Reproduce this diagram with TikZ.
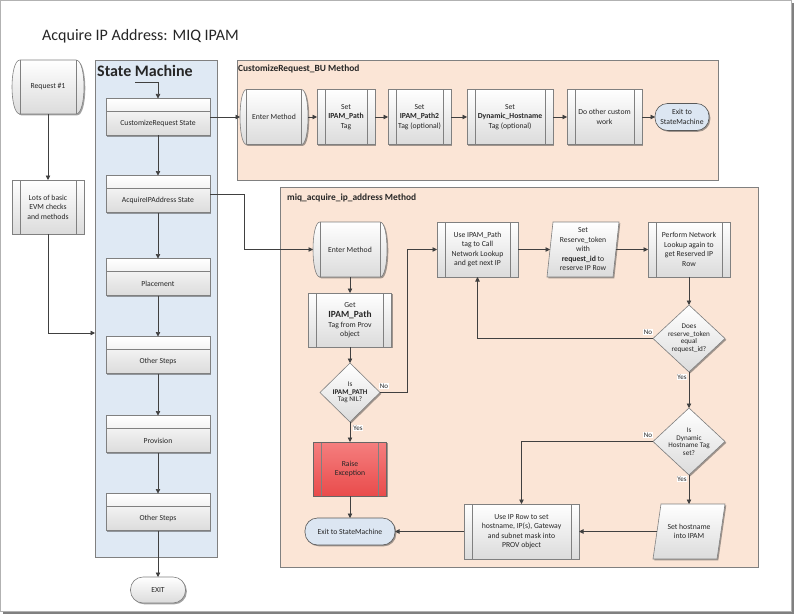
\documentclass[tikz,border=0pt]{standalone}
\usepackage{fontspec}
\setmainfont{Carlito}
\usetikzlibrary{arrows.meta,shadows,calc}
\pgfdeclarelayer{cont}
\pgfdeclarelayer{shp}
\pgfsetlayers{cont,shp,main}
\definecolor{peach}{HTML}{FBE5D6}
\definecolor{smblue}{HTML}{DFE9F4}
\definecolor{exitblue}{HTML}{DCE6F2}
\definecolor{lnc}{HTML}{404040}
\definecolor{bdc}{HTML}{808080}
\definecolor{txc}{HTML}{262626}
\definecolor{redtop}{HTML}{F57F7F}
\definecolor{redbot}{HTML}{E94B4B}
\newcommand\fs{\fontsize{7.7}{9.5}\selectfont}
\newcommand\fdm{\fontsize{7.2}{7.5}\selectfont}
\newcommand\fyn{\fontsize{7}{7.5}\selectfont}
\tikzset{
 shad/.style={drop shadow={shadow xshift=1.3pt,shadow yshift=-1.3pt,opacity=.45,fill=black!80}},
 sfill/.style={draw=bdc,line width=.6pt,top color=white,bottom color=black!14,shad},
 xfill/.style={draw=black!65,line width=.6pt,fill=exitblue,shad},
 txt/.style={inner sep=1pt,outer sep=0pt,align=center,font=\fs,text=txc},
 wd/.style={minimum width=#1},
 ht/.style={minimum height=#1},
 ghost/.style={txt,rectangle,draw=none},
 subp/.style={txt,rectangle,sfill,path picture={\draw[bdc,line width=.6pt]
   ([xshift=8pt]path picture bounding box.north west) -- ([xshift=8pt]path picture bounding box.south west)
   ([xshift=-8pt]path picture bounding box.north east) -- ([xshift=-8pt]path picture bounding box.south east);}},
 stbox/.style={rectangle,sfill,inner sep=0pt,outer sep=0pt,minimum width=104,minimum height=37,
   path picture={\draw[bdc,line width=.6pt]
   ([yshift=-13pt]path picture bounding box.north west) -- ([yshift=-13pt]path picture bounding box.north east);}},
 contbox/.style={rectangle,draw=bdc,line width=.7pt,shad,inner sep=0pt,outer sep=0pt},
 arr/.style={draw=lnc,line width=.7pt,-{Triangle[length=4.5pt,width=4.5pt]}},
 yn/.style={font=\fyn,text=txc,fill=white,inner sep=.6pt},
}
\newcommand\entershape[2]{%
  \begin{pgfonlayer}{shp}
  \path[sfill] ($(#1.north west)+(#2,0)$) -- ($(#1.north east)+(-#2,0)$)
    .. controls ($(#1.north east)+({#2/3},0)$) and ($(#1.south east)+({#2/3},0)$) .. ($(#1.south east)+(-#2,0)$)
    -- ($(#1.south west)+(#2,0)$)
    .. controls ($(#1.south west)+({-#2/3},0)$) and ($(#1.north west)+({-#2/3},0)$) .. ($(#1.north west)+(#2,0)$) -- cycle;
  \draw[bdc,line width=.6pt] ($(#1.north west)+(#2,0)$) -- ($(#1.south west)+(#2,0)$)
    ($(#1.north east)+(-#2,0)$) -- ($(#1.south east)+(-#2,0)$);
  \end{pgfonlayer}}
\newcommand\paral[2]{%
  \begin{pgfonlayer}{shp}
  \path[sfill] ($(#1.north west)+({#2/2},0)$) -- ($(#1.north east)+({#2/2},0)$)
    -- ($(#1.south east)+({-#2/2},0)$) -- ($(#1.south west)+({-#2/2},0)$) -- cycle;
  \end{pgfonlayer}}
\newcommand\diam[1]{%
  \begin{pgfonlayer}{shp}
  \path[sfill] (#1.north) -- (#1.east) -- (#1.south) -- (#1.west) -- cycle;
  \end{pgfonlayer}}
\newcommand\termshape[2]{%
  \begin{pgfonlayer}{shp}
  \path[#2,rounded corners=12.5pt] (#1.north west) rectangle (#1.south east);
  \end{pgfonlayer}}
\begin{document}
\begin{tikzpicture}[x=1pt,y=-1pt]
\useasboundingbox (0,0) rectangle (795,615);
\begin{pgfonlayer}{cont}
\fill[white] (0,0) rectangle (795,615);
\fill[black!50] (3,3) rectangle (794,614);
\draw[black!30,fill=white,line width=.8pt] (0.5,0.5) rectangle (791.5,611.5);
\node[contbox,fill=smblue,wd=122,ht=497] (sm) at (156,308.5) {};
\node[contbox,fill=peach,wd=481,ht=120] (c1) at (477.5,120) {};
\node[contbox,fill=peach,wd=478,ht=380] (c2) at (519,377) {};
\end{pgfonlayer}
% titles
\node[anchor=base west,inner sep=0pt,font=\fontsize{16}{18}\selectfont,text=txc] (title) at (42,41) {Acquire IP Address: MIQ IPAM};
\node[anchor=base west,inner sep=0pt,font=\fontsize{16}{18}\selectfont\bfseries,text=txc] (smt) at (97,77) {State Machine};
\node[anchor=base west,inner sep=0pt,font=\fontsize{9.4}{11}\selectfont\bfseries,text=txc] (c1t) at (238,72) {CustomizeRequest\_BU Method};
\node[anchor=base west,inner sep=0pt,font=\fontsize{9.4}{11}\selectfont\bfseries,text=txc] (c2t) at (287,200) {miq\_acquire\_ip\_address Method};
% left column
\node[ghost,wd=72,ht=54] (req) at (48,87) {Request \#1}; \entershape{req}{8}
\node[subp,wd=72,ht=54] (lots) at (48,207) {Lots of basic\\EVM checks\\and methods};
% state machine
\node[stbox,label={[txt,yshift=-6.5pt]center:CustomizeRequest State}] (cr) at (158,117) {};
\node[stbox,label={[txt,yshift=-6.5pt]center:AcquireIPAddress State}] (acq) at (158,194) {};
\node[stbox,label={[txt,yshift=-6.5pt]center:Placement}] (plc) at (158,277) {};
\node[stbox,label={[txt,yshift=-6.5pt]center:Other Steps}] (os1) at (158,355) {};
\node[stbox,label={[txt,yshift=-6.5pt]center:Provision}] (prov) at (158,434) {};
\node[stbox,label={[txt,yshift=-6.5pt]center:Other Steps}] (os2) at (158,512) {};
\node[ghost,wd=55,ht=26] (exit) at (158,590) {EXIT}; \termshape{exit}{sfill}
% CustomizeRequest_BU method
\node[ghost,wd=68,ht=55] (e1) at (274,117) {Enter Method}; \entershape{e1}{6.5}
\node[subp,wd=58,ht=55] (sp1) at (346,117) {Set\\\textbf{IPAM\_Path}\\Tag};
\node[subp,wd=63,ht=55] (sp2) at (419.5,117) {Set\\\textbf{IPAM\_Path2}\\Tag (optional)};
\node[subp,wd=86,ht=55] (sdh) at (510,117) {Set\\\textbf{Dynamic\_Hostname}\\Tag (optional)};
\node[subp,wd=75,ht=55] (oth) at (604.5,117) {Do other custom\\work};
\node[ghost,wd=54,ht=27] (x1) at (682,117) {Exit to\\StateMachine}; \termshape{x1}{xfill}
% miq_acquire_ip_address method
\node[ghost,wd=74,ht=55] (e2) at (350,249.5) {Enter Method}; \entershape{e2}{7}
\node[subp,wd=83,ht=54] (gp) at (350,320) {Get\\[1pt]{\fontsize{9.4}{10}\selectfont\bfseries IPAM\_Path}\\Tag from Prov\\object};
\node[ghost,wd=60,ht=59,font=\fdm] (d1) at (350,392.5) {Is\\\textbf{IPAM\_PATH}\\Tag NIL?}; \diam{d1}
\node[subp,wd=73,ht=54,top color=redtop,bottom color=redbot,draw=black!60] (rx) at (350,469) {Raise\\Exception};
\node[ghost,wd=90,ht=27] (x2) at (350,531.5) {Exit to StateMachine}; \termshape{x2}{xfill}
\node[subp,wd=81,ht=55] (up) at (477.5,249.5) {Use IPAM\_Path\\tag to Call\\Network Lookup\\and get next IP};
\node[ghost,wd=66,ht=55] (rt) at (583,249.5) {Set\\Reserve\_token\\with\\\textbf{request\_id} to\\reserve IP Row}; \paral{rt}{6}
\node[subp,wd=82,ht=55] (pn) at (689,249.5) {Perform Network\\Lookup again to\\get Reserved IP\\Row};
\node[ghost,wd=72,ht=67,font=\fdm] (d2) at (689,338.5) {Does\\reserve\_token\\equal\\request\_id?}; \diam{d2}
\node[ghost,wd=72,ht=67,font=\fdm] (d3) at (689,441.5) {Is\\Dynamic\\Hostname Tag\\set?}; \diam{d3}
\node[ghost,wd=64,ht=55] (sh) at (689,531.5) {Set hostname\\into IPAM}; \paral{sh}{8}
\node[subp,wd=115,ht=55] (uip) at (521.5,531.5) {Use IP Row to set\\hostname, IP(s), Gateway\\and subnet mask into\\PROV object};
% connectors
\coordinate (smstart) at (135,82);
\draw[arr] (smstart) -| (cr.north);
\draw[arr] (cr.south) -- (acq.north);
\draw[arr] (acq.south) -- (plc.north);
\draw[arr] (plc.south) -- (os1.north);
\draw[arr] (os1.south) -- (prov.north);
\draw[arr] (prov.south) -- (os2.north);
\draw[arr] (os2.south) -- (exit.north);
\draw[arr] (req.south) -- (lots.north);
\draw[arr] (lots.south) |- ([yshift=-24.5pt]sm.west);
\draw[arr] (cr.east) -- (e1.west);
\draw[arr] (e1.east) -- (sp1.west);
\draw[arr] (sp1.east) -- (sp2.west);
\draw[arr] (sp2.east) -- (sdh.west);
\draw[arr] (sdh.east) -- (oth.west);
\draw[arr] (oth.east) -- (x1.west);
\draw[arr] (acq.east) -- ++(34,0) |- (e2.west);
\draw[arr] (e2.south) -- (gp.north);
\draw[arr] (gp.south) -- (d1.north);
\draw[arr] (d1.south) -- (rx.north);
\draw[arr] (rx.south) -- (x2.north);
\draw[arr] (d1.east) -- ++(27,0) |- (up.west);
\draw[arr] (up.east) -- (rt.west);
\draw[arr] (rt.east) -- (pn.west);
\draw[arr] (pn.south) -- (d2.north);
\draw[arr] (d2.west) -| (up.south);
\draw[arr] (d2.south) -- (d3.north);
\draw[arr] (d3.south) -- (sh.north);
\draw[arr] (d3.west) -| (uip.north);
\draw[arr] (sh.west) -- (uip.east);
\draw[arr] (uip.west) -- (x2.east);
% yes / no labels
\node[yn] (n1) at (384,386) {No};
\node[yn] (y1) at (358,428) {Yes};
\node[yn] (n2) at (648,332) {No};
\node[yn] (y2) at (682,377) {Yes};
\node[yn] (n3) at (648,435) {No};
\node[yn] (y3) at (682,479) {Yes};
\end{tikzpicture}
\end{document}
